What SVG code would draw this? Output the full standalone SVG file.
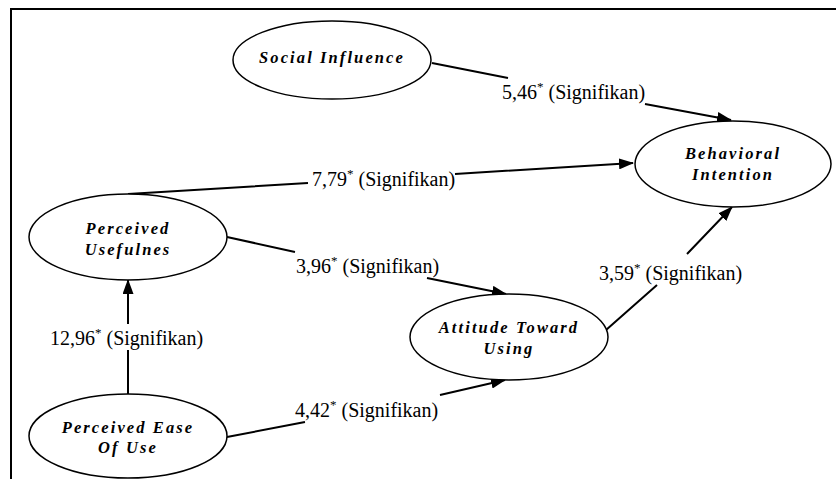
<svg xmlns="http://www.w3.org/2000/svg" width="836" height="479" viewBox="0 0 836 479">
<style>
.node ellipse{fill:#fff;stroke:#000;stroke-width:1.5}
.conn path{fill:none;stroke:#000;stroke-width:2}
</style>
<defs>
<marker id="arr" markerUnits="userSpaceOnUse" markerWidth="15" markerHeight="11" viewBox="0 0 15 11" refX="14" refY="5.5" orient="auto">
<path d="M0,0 L15,5.5 L0,11 z" fill="#000"/>
</marker>
</defs>
<rect width="836" height="479" fill="#fff"/>
<path d="M11,479 V9 H836" fill="none" stroke="#000" stroke-width="2"/>
<g id="connectors" class="conn">
<path d="M432,63 L508,78 M645,104 L731,120" marker-end="url(#arr)"/>
<path d="M128,194 L308,183 M455,174 L633,163" marker-end="url(#arr)"/>
<path d="M227,237 L295,252 M427,278 L506,294" marker-end="url(#arr)"/>
<path d="M606,330 L657,285 M687,254 L732,207" marker-end="url(#arr)"/>
<path d="M128,394 L128,350 M128,324 L128,280" marker-end="url(#arr)"/>
<path d="M227,437 L305,422 M440,395 L505,380" marker-end="url(#arr)"/>
</g>
<g id="labels">
<text x="502" y="99" style="font-family:'Liberation Serif',serif;font-size:20px">5,46<tspan style="font-size:13px" dy="-8">*</tspan><tspan dy="8"> (Signifikan)</tspan></text>
<text x="312" y="186" style="font-family:'Liberation Serif',serif;font-size:20px">7,79<tspan style="font-size:13px" dy="-8">*</tspan><tspan dy="8"> (Signifikan)</tspan></text>
<text x="296" y="273" style="font-family:'Liberation Serif',serif;font-size:20px">3,96<tspan style="font-size:13px" dy="-8">*</tspan><tspan dy="8"> (Signifikan)</tspan></text>
<text x="599" y="280" style="font-family:'Liberation Serif',serif;font-size:20px">3,59<tspan style="font-size:13px" dy="-8">*</tspan><tspan dy="8"> (Signifikan)</tspan></text>
<text x="50" y="345" style="font-family:'Liberation Serif',serif;font-size:20px">12,96<tspan style="font-size:13px" dy="-8">*</tspan><tspan dy="8"> (Signifikan)</tspan></text>
<text x="295" y="417" style="font-family:'Liberation Serif',serif;font-size:20px">4,42<tspan style="font-size:13px" dy="-8">*</tspan><tspan dy="8"> (Signifikan)</tspan></text>
</g>
<g id="social-influence" class="node">
<ellipse cx="332" cy="60" rx="99" ry="39"/>
<text x="332" y="63" text-anchor="middle" style="font-family:'Liberation Serif',serif;font-size:16.5px;font-weight:bold;font-style:italic;letter-spacing:2.1px">Social Influence</text>
</g>
<g id="behavioral-intention" class="node">
<ellipse cx="733" cy="164" rx="98" ry="43"/>
<text x="733" y="159" text-anchor="middle" style="font-family:'Liberation Serif',serif;font-size:16.5px;font-weight:bold;font-style:italic;letter-spacing:2.1px">Behavioral</text>
<text x="733" y="180" text-anchor="middle" style="font-family:'Liberation Serif',serif;font-size:16.5px;font-weight:bold;font-style:italic;letter-spacing:2.1px">Intention</text>
</g>
<g id="perceived-usefulnes" class="node">
<ellipse cx="128" cy="237" rx="99" ry="43"/>
<text x="128" y="234" text-anchor="middle" style="font-family:'Liberation Serif',serif;font-size:16.5px;font-weight:bold;font-style:italic;letter-spacing:2.1px">Perceived</text>
<text x="128" y="255" text-anchor="middle" style="font-family:'Liberation Serif',serif;font-size:16.5px;font-weight:bold;font-style:italic;letter-spacing:2.1px">Usefulnes</text>
</g>
<g id="attitude-toward-using" class="node">
<ellipse cx="509" cy="337" rx="99" ry="43"/>
<text x="509" y="333" text-anchor="middle" style="font-family:'Liberation Serif',serif;font-size:16.5px;font-weight:bold;font-style:italic;letter-spacing:2.1px">Attitude Toward</text>
<text x="509" y="354" text-anchor="middle" style="font-family:'Liberation Serif',serif;font-size:16.5px;font-weight:bold;font-style:italic;letter-spacing:2.1px">Using</text>
</g>
<g id="perceived-ease-of-use" class="node">
<ellipse cx="128" cy="436" rx="99" ry="42"/>
<text x="128" y="433" text-anchor="middle" style="font-family:'Liberation Serif',serif;font-size:16.5px;font-weight:bold;font-style:italic;letter-spacing:2.1px">Perceived Ease</text>
<text x="128" y="453" text-anchor="middle" style="font-family:'Liberation Serif',serif;font-size:16.5px;font-weight:bold;font-style:italic;letter-spacing:2.1px">Of Use</text>
</g>
</svg>
